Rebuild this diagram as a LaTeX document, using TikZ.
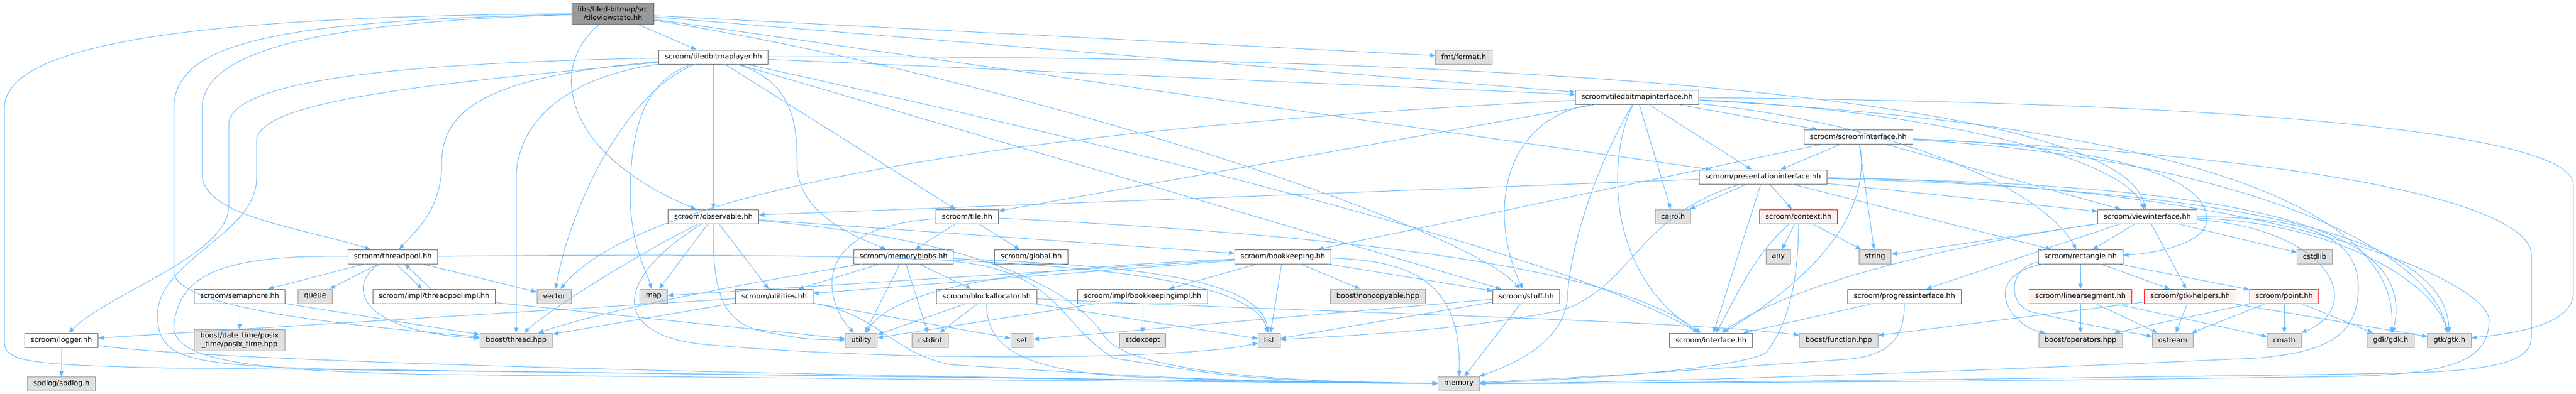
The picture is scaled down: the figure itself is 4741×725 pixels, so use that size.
\documentclass[tikz,border=0pt]{standalone}
\usepackage{fontspec}
\setmainfont{DejaVu Sans}
\usetikzlibrary{arrows.meta}
\definecolor{edgeblue}{HTML}{63B8FF}
\definecolor{boxline}{HTML}{666666}
\definecolor{sysline}{HTML}{999999}
\definecolor{sysfill}{HTML}{E0E0E0}
\definecolor{redfill}{HTML}{FFF0F0}
\definecolor{mainfill}{HTML}{999999}

\begin{document}
\begin{tikzpicture}[x=0.5pt, y=-0.5pt,
    every node/.style={draw=boxline, fill=white, line width=0.5pt, inner xsep=5.5pt,
      inner ysep=0pt, minimum height=13pt, font=\fontsize{6.5}{7.8}\selectfont},
    sysfile/.style={draw=sysline, fill=sysfill},
    redfile/.style={draw=red, fill=redfill},
    mainfile/.style={fill=mainfill, align=center, minimum height=19.5pt},
    inc/.style={edgeblue, line width=0.5pt, -{Triangle[length=5pt, width=4pt]}}]

    \useasboundingbox (0,0) rectangle (4741,725);

    % Nodes
    \node[mainfile] (tvs) at (1128,25) {libs/tiled-bitmap/src\\/tileviewstate.hh};
    \node (tbl) at (1313,105) {scroom/tiledbitmaplayer.hh};
    \node[sysfile] (fmt) at (2694,105) {fmt/format.h};
    \node (tbi) at (3013,179) {scroom/tiledbitmapinterface.hh};
    \node (sci) at (3420,252) {scroom/scroominterface.hh};
    \node (pri) at (3245,326) {scroom/presentationinterface.hh};
    \node (obs) at (1313,399) {scroom/observable.hh};
    \node (tile) at (1780,399) {scroom/tile.hh};
    \node[sysfile] (cairo) at (3079,399) {cairo.h};
    \node[redfile] (ctx) at (3310,399) {scroom/context.hh};
    \node (vwi) at (3952,399) {scroom/viewinterface.hh};
    \node (tp) at (723,473) {scroom/threadpool.hh};
    \node (mb) at (1663,473) {scroom/memoryblobs.hh};
    \node (glob) at (1898,473) {scroom/global.hh};
    \node (bk) at (2361,473) {scroom/bookkeeping.hh};
    \node[sysfile] (any) at (3273,473) {any};
    \node[sysfile] (string) at (3451,473) {string};
    \node (rect) at (3829,473) {scroom/rectangle.hh};
    \node[sysfile] (cstdlib) at (4260,473) {cstdlib};
    \node (sem) at (441,546) {scroom/semaphore.hh};
    \node[sysfile] (queue) at (580,546) {queue};
    \node (tpi) at (799,546) {scroom/impl/threadpoolimpl.hh};
    \node[sysfile] (vector) at (1020,546) {vector};
    \node[sysfile] (map) at (1203,546) {map};
    \node (util) at (1425,546) {scroom/utilities.hh};
    \node (ba) at (1816,546) {scroom/blockallocator.hh};
    \node (bki) at (2103,546) {scroom/impl/bookkeepingimpl.hh};
    \node[sysfile] (nc) at (2536,546) {boost/noncopyable.hpp};
    \node (stuff) at (2809,546) {scroom/stuff.hh};
    \node (prog) at (3505,546) {scroom/progressinterface.hh};
    \node[redfile] (ls) at (3829,546) {scroom/linearsegment.hh};
    \node[redfile] (gtkh) at (4031,546) {scroom/gtk-helpers.hh};
    \node[redfile] (point) at (4204,546) {scroom/point.hh};
    \node (log) at (113,627) {scroom/logger.hh};
    \node[sysfile, align=center, minimum height=19.5pt] (posix) at (441,627) {boost/date\_time/posix\\\_time/posix\_time.hpp};
    \node[sysfile] (bth) at (950,627) {boost/thread.hpp};
    \node[sysfile] (utility) at (1585,627) {utility};
    \node[sysfile] (cstdint) at (1712,627) {cstdint};
    \node[sysfile] (set) at (1881,627) {set};
    \node[sysfile] (stdexcept) at (2103,627) {stdexcept};
    \node[sysfile] (list) at (2336,627) {list};
    \node (intf) at (3149,627) {scroom/interface.hh};
    \node[sysfile] (bfun) at (3384,627) {boost/function.hpp};
    \node[sysfile] (bop) at (3829,627) {boost/operators.hpp};
    \node[sysfile] (ostream) at (3999,627) {ostream};
    \node[sysfile] (cmath) at (4204,627) {cmath};
    \node[sysfile] (gdk) at (4400,627) {gdk/gdk.h};
    \node[sysfile] (gtk) at (4508,627) {gtk/gtk.h};
    \node[sysfile] (spd) at (113,707) {spdlog/spdlog.h};
    \node[sysfile] (mem) at (2685,707) {memory};

    % Lines
    \draw[inc] (tvs) -- (tbl);
    \draw[inc] (tvs) .. controls (1010,120) and (1030,280) .. (obs);
    \draw[inc] (tvs) .. controls (600,40) and (372,90) .. (372,200) -- (372,320) .. controls (372,400) and (560,420) .. (tp);
    \draw[inc] (tvs) .. controls (500,38) and (320,80) .. (320,200) -- (320,500) .. controls (320,570) and (650,600) .. (bth);
    \draw[inc] (tvs) .. controls (300,30) and (8,90) .. (8,200) -- (8,630) .. controls (8,668) and (60,672) .. (300,678) .. controls (1500,690) and (2400,705) .. (mem);
    \draw[inc] (tvs) -- (fmt);
    \draw[inc] (tvs) -- (tbi);
    \draw[inc] (tvs) -- (pri);
    \draw[inc] (tvs) .. controls (1900,150) and (2700,420) .. (stuff);

    \draw[inc] (tbl) .. controls (800,115) and (421,140) .. (421,230) -- (421,380) .. controls (421,470) and (200,540) .. (log);
    \draw[inc] (tbl) .. controls (850,150) and (472,180) .. (472,260) -- (472,330) .. controls (472,430) and (290,480) .. (290,580) .. controls (290,660) and (340,672) .. (600,680) .. controls (1800,696) and (2400,704) .. (mem);
    \draw[inc] (tbl) .. controls (900,140) and (813,200) .. (813,300) .. controls (813,390) and (760,430) .. (tp);
    \draw[inc] (tbl) .. controls (1050,140) and (950,220) .. (950,330) -- (bth);
    \draw[inc] (tbl) .. controls (1150,170) and (1050,380) .. (vector);
    \draw[inc] (tbl) .. controls (1180,150) and (1160,250) .. (1160,360) .. controls (1160,450) and (1190,500) .. (map);
    \draw[inc] (tbl) -- (obs);
    \draw[inc] (tbl) -- (tile);
    \draw[inc] (tbl) .. controls (1460,150) and (1467,230) .. (1467,300) .. controls (1467,390) and (1560,430) .. (mb);
    \draw[inc] (tbl) -- (tbi);
    \draw[inc] (tbl) -- (stuff);
    \draw[inc] (tbl) .. controls (2200,300) and (2900,480) .. (intf);
    \draw[inc] (tbl) .. controls (2800,100) and (3900,180) .. (vwi);

    \draw[inc] (tbi) .. controls (2000,230) and (1200,330) .. (vector);
    \draw[inc] (tbi) -- (tile);
    \draw[inc] (tbi) .. controls (2760,220) and (2740,400) .. (stuff);
    \draw[inc] (tbi) .. controls (2940,300) and (2890,450) .. (2885,546) .. controls (2880,640) and (2760,680) .. (mem);
    \draw[inc] (tbi) .. controls (2960,280) and (2950,500) .. (intf);
    \draw[inc] (tbi) -- (cairo);
    \draw[inc] (tbi) -- (pri);
    \draw[inc] (tbi) -- (sci);
    \draw[inc] (tbi) .. controls (3500,200) and (3900,280) .. (vwi);
    \draw[inc] (tbi) .. controls (3500,230) and (3760,350) .. (rect);
    \draw[inc] (tbi) .. controls (4000,230) and (4420,380) .. (gdk);
    \draw[inc] (tbi) .. controls (4300,190) and (4736,260) .. (4736,340) -- (4736,540) .. controls (4736,600) and (4620,615) .. (gtk);

    \draw[inc] (sci) -- (pri);
    \draw[inc] (sci) -- (string);
    \draw[inc] (sci) -- (vwi);
    \draw[inc] (sci) -- (bk);
    \draw[inc] (sci) .. controls (3900,270) and (4070,330) .. (4061,410) .. controls (4055,450) and (3960,468) .. (rect);
    \draw[inc] (sci) .. controls (3440,360) and (3390,480) .. (intf);
    \draw[inc] (sci) .. controls (4100,290) and (4470,450) .. (gtk);
    \draw[inc] (sci) .. controls (4300,290) and (4659,380) .. (4659,470) -- (4659,620) .. controls (4659,665) and (4600,684) .. (4400,688) .. controls (3600,700) and (3000,706) .. (mem);

    \draw[inc] (pri) -- (obs);
    \draw[inc] (pri) -- (ctx);
    \draw[inc] (pri) -- (rect);
    \draw[inc] (pri) -- (vwi);
    \draw[inc] (pri) -- (intf);
    \draw[inc] (pri) -- (cairo);
    \draw[inc] (pri) .. controls (4150,350) and (4500,440) .. (gtk);
    \draw[inc] (pri) .. controls (4150,340) and (4450,420) .. (gdk);
    \draw[inc] (pri) .. controls (3010,400) and (3010,520) .. (2880,570) .. controls (2700,610) and (2450,620) .. (list);
    \draw[inc] (pri) .. controls (4200,340) and (4581,520) .. (4581,590) .. controls (4581,670) and (4500,690) .. (4300,694) .. controls (3600,703) .. (mem);

    \draw[inc] (ctx) -- (any);
    \draw[inc] (ctx) -- (string);
    \draw[inc] (ctx) .. controls (3225,470) and (3190,560) .. (intf);
    \draw[inc] (ctx) .. controls (3310,520) and (3290,600) .. (3250,650) .. controls (3200,680) and (2900,700) .. (mem);

    \draw[inc] (vwi) -- (string);
    \draw[inc] ([xshift=-25pt]vwi.south) -- (prog);
    \draw[inc] (vwi) -- (rect);
    \draw[inc] (vwi) -- (gtkh);
    \draw[inc] (vwi) -- (cstdlib);
    \draw[inc] (vwi) .. controls (4280,420) and (4360,560) .. (cmath);
    \draw[inc] (vwi) .. controls (4300,410) and (4480,520) .. (gtk);
    \draw[inc] (vwi) .. controls (3600,450) and (3300,520) .. (intf);
    \draw[inc] (vwi) .. controls (4280,400) and (4345,450) .. (4340,540) .. controls (4335,620) and (4280,650) .. (4150,660) .. controls (3500,690) and (3000,705) .. (mem);

    \draw[inc] (rect) -- (ls);
    \draw[inc] (rect) .. controls (3640,510) and (3700,600) .. (bop);
    \draw[inc] (rect) .. controls (3700,490) and (3690,560) .. (3740,575) .. controls (3850,600) .. (ostream);
    \draw[inc] (rect) -- (gtkh);
    \draw[inc] (rect) -- (point);

    \draw[inc] (ls) -- (bop);
    \draw[inc] (ls) -- (ostream);
    \draw[inc] (ls) -- (cmath);

    \draw[inc] (gtkh) -- (bfun);
    \draw[inc] (gtkh) -- (ostream);
    \draw[inc] (gtkh) -- (gtk);

    \draw[inc] (point) -- (bop);
    \draw[inc] (point) -- (ostream);
    \draw[inc] (point) -- (cmath);
    \draw[inc] (point) -- (gdk);

    \draw[inc] (prog) -- (intf);
    \draw[inc] (prog) .. controls (3505,620) and (3480,655) .. (3400,662) .. controls (3000,690) .. (mem);

    \draw[inc] (obs) .. controls (1150,480) and (1000,580) .. (bth);
    \draw[inc] (obs) -- (map);
    \draw[inc] (obs) -- (util);
    \draw[inc] (obs) -- (bk);
    \draw[inc] (obs) .. controls (1312,520) and (1320,590) .. (1400,610) .. controls (1480,625) .. (utility);
    \draw[inc] (obs) .. controls (1120,520) and (1130,620) .. (1300,635) .. controls (1700,670) and (2200,660) .. (list);
    \draw[inc] (obs) .. controls (1780,440) and (1960,520) .. (2030,615) .. controls (2070,700) and (2500,705) .. (mem);

    \draw[inc] (bk) -- (list);
    \draw[inc] (bk) -- (nc);
    \draw[inc] (bk) -- (stuff);
    \draw[inc] (bk) -- (bki);
    \draw[inc] (bk) -- (map);
    \draw[inc] (bk) -- (util);
    \draw[inc] (bk) .. controls (2000,490) and (1660,510) .. (utility);
    \draw[inc] (bk) .. controls (2600,480) and (2690,520) .. (mem);

    \draw[inc] (bki) -- (utility);
    \draw[inc] (bki) -- (stdexcept);

    \draw[inc] (tp) -- (sem);
    \draw[inc] (tp) -- (queue);
    \draw[inc] ([xshift=3pt]tp.south) -- ([xshift=-11pt]tpi.north);
    \draw[inc] ([xshift=-3pt]tpi.north) -- ([xshift=11pt]tp.south);
    \draw[inc] (tp) -- (vector);
    \draw[inc] (tp) .. controls (640,520) and (650,610) .. (bth);
    \draw[inc] (tp) .. controls (1600,465) and (2300,470) .. (list);
    \draw[inc] (tp) .. controls (420,470) and (330,500) .. (320,600) .. controls (315,670) and (500,684) .. (800,690) .. controls (1800,700) .. (mem);

    \draw[inc] (tpi) -- (utility);

    \draw[inc] (sem) -- (posix);
    \draw[inc] (sem) -- (bth);

    \draw[inc] (log) -- (spd);
    \draw[inc] (log) .. controls (400,668) and (1500,694) .. (mem);

    \draw[inc] (util) -- (log);
    \draw[inc] (util) -- (bth);
    \draw[inc] (util) -- (set);
    \draw[inc] (util) .. controls (1620,580) and (1640,650) .. (1750,672) .. controls (2200,700) .. (mem);

    \draw[inc] (mb) -- (utility);
    \draw[inc] (mb) -- (cstdint);
    \draw[inc] (mb) -- (ba);
    \draw[inc] (mb) -- (util);
    \draw[inc] (mb) .. controls (2100,490) and (2320,515) .. (list);
    \draw[inc] (mb) .. controls (1450,510) and (1150,560) .. (bth);
    \draw[inc] (mb) .. controls (1950,500) and (1950,600) .. (2050,660) .. controls (2300,700) .. (mem);

    \draw[inc] (ba) -- (utility);
    \draw[inc] (ba) -- (cstdint);
    \draw[inc] (ba) -- (list);
    \draw[inc] (ba) .. controls (2400,575) and (3100,590) .. (bfun);
    \draw[inc] (ba) .. controls (1815,640) and (1880,685) .. (2100,695) .. controls (2400,705) .. (mem);

    \draw[inc] (tile) -- (mb);
    \draw[inc] (tile) -- (glob);
    \draw[inc] (tile) .. controls (1480,420) and (1520,560) .. (utility);
    \draw[inc] (tile) .. controls (2400,430) and (2950,480) .. (intf);

    \draw[inc] (stuff) -- (list);
    \draw[inc] (stuff) -- (set);
    \draw[inc] (stuff) -- (mem);

\end{tikzpicture}
\end{document}
